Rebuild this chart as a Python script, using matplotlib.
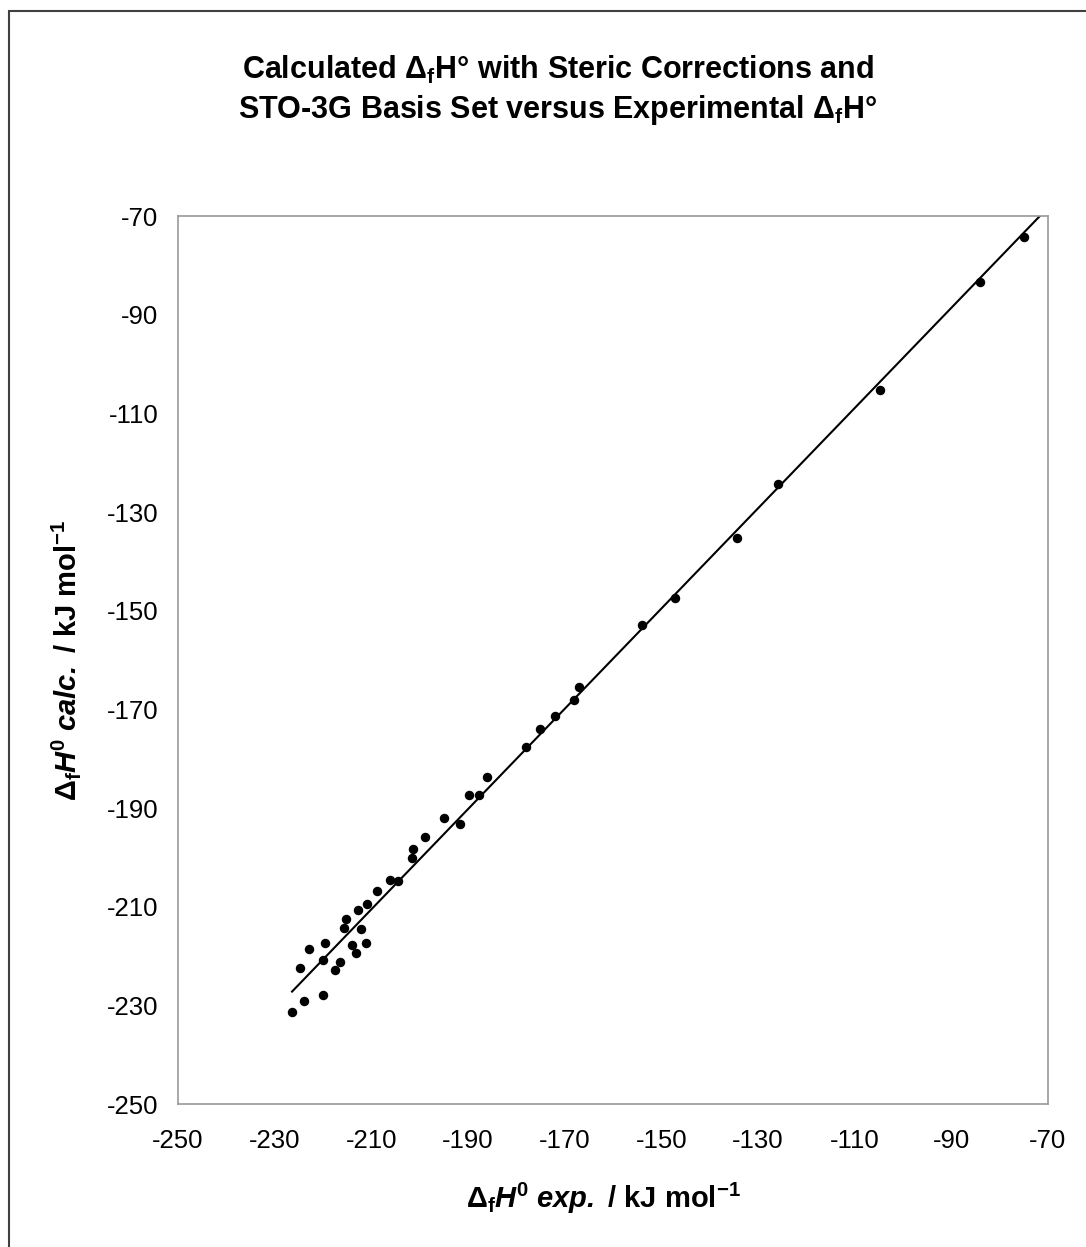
import matplotlib
matplotlib.use("Agg")
import matplotlib.pyplot as plt
import numpy as np
from matplotlib.patches import Rectangle

# fonts (Arial look-alike)
plt.rcParams['font.family'] = ['Liberation Sans', 'DejaVu Sans']
plt.rcParams['axes.unicode_minus'] = False
plt.rcParams['mathtext.fontset'] = 'custom'
plt.rcParams['mathtext.rm'] = 'Liberation Sans'
plt.rcParams['mathtext.it'] = 'Liberation Sans:italic'
plt.rcParams['mathtext.bf'] = 'Liberation Sans:bold'
plt.rcParams['mathtext.bfit'] = 'Liberation Sans:bold:italic'

# data (kJ/mol)
dfh_exp = [-226.4, -224.0, -220.0, -224.8, -220.0, -222.8, -219.6, -217.6,
           -216.4, -214.1, -213.2, -211.2, -212.1, -215.7, -215.2, -212.8,
           -210.8, -208.8, -206.1, -204.5, -201.6, -201.3, -198.9, -194.9,
           -191.7, -189.7, -187.7, -186.1, -178.1, -175.0, -172.1, -168.1,
           -167.0, -153.9, -147.2, -134.3, -125.9, -104.8, -84.0, -74.9]
dfh_calc = [-231.4, -229.1, -227.9, -222.4, -220.9, -218.5, -217.4, -222.8,
            -221.3, -217.7, -219.3, -217.4, -214.6, -214.3, -212.6, -210.7,
            -209.5, -206.8, -204.5, -204.8, -200.2, -198.3, -195.9, -192.0,
            -193.2, -187.3, -187.3, -183.8, -177.6, -174.0, -171.3, -168.2,
            -165.5, -153.0, -147.4, -135.3, -124.4, -105.3, -83.4, -74.3]
ticks = [-250, -230, -210, -190, -170, -150, -130, -110, -90, -70]

x = np.array(dfh_exp)
y = np.array(dfh_calc)

fig = plt.figure(figsize=(10.86, 12.47), dpi=100)
ax = fig.add_axes([178/1086, 1 - 1104/1247, 870/1086, 888/1247])

# outer chart border
fig.patches.append(Rectangle((9/1086, -0.1), 1.2, 1 - 11/1247 + 0.1,
                             transform=fig.transFigure, fill=False,
                             edgecolor='#404040', linewidth=1.5))

ax.plot(x, y, 'o', color='black', markersize=5.8, zorder=3)

# linear trendline
m, b = np.polyfit(x, y, 1)
xl = np.array([x.min(), -70])
ax.plot(xl, m * xl + b, color='black', linewidth=1.5)

ax.set_xlim(-250, -70)
ax.set_ylim(-250, -70)
ax.set_xticks(ticks)
ax.set_yticks(ticks)
ax.tick_params(length=0, labelsize=18.5)
ax.tick_params(axis='x', pad=18)
ax.tick_params(axis='y', pad=14)
for s in ax.spines.values():
    s.set_color('#9a9a9a')
    s.set_linewidth(1.2)

fig.text(0.514, 0.944,
         r'Calculated $\mathbf{\Delta_f}$H° with Steric Corrections and',
         ha='center', va='center', fontsize=22, fontweight='bold')
fig.text(0.514, 0.912,
         r'STO-3G Basis Set versus Experimental $\mathbf{\Delta_f}$H°',
         ha='center', va='center', fontsize=22, fontweight='bold')

fig.text(603/1086, 1 - 1198/1247,
         r'$\mathbf{\Delta_f}\mathbfit{H}^{\mathbf{0}}\ \mathbfit{exp.}\mathbf{\ /\ kJ\ mol^{-1}}$',
         ha='center', va='center', fontsize=21)
fig.text(66/1086, 1 - 660/1247,
         r'$\mathbf{\Delta_f}\mathbfit{H}^{\mathbf{0}}\ \mathbfit{calc.}\mathbf{\ /\ kJ\ mol^{-1}}$',
         ha='center', va='center', fontsize=21, rotation=90)

fig.savefig('out.png', dpi=100)
